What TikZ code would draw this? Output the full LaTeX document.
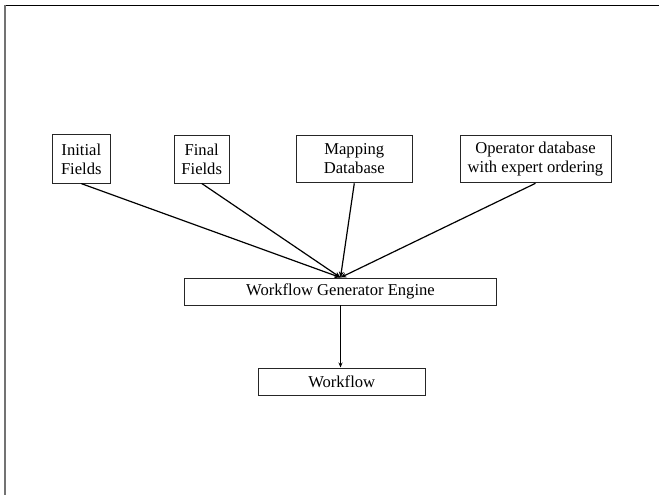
\documentclass[tikz,border=0pt]{standalone}
\usepackage{fontspec}
\setmainfont{Liberation Serif}
\usetikzlibrary{arrows.meta}
\begin{document}
\begin{tikzpicture}[x=1pt,y=-1pt,
  box/.style={draw=black!85,line width=0.9pt,inner sep=0pt,align=center,
    font=\fontsize{16.6}{19}\selectfont},
  conn/.style={line width=1.2pt,-{Stealth[length=6pt,width=5pt]}}]
\useasboundingbox (0,0) rectangle (659,495);
% page frame
\draw[line width=1.3pt,black] (4,5.5) -- (659,5.5);
\draw[line width=1.6pt,black!55] (4.8,5) -- (4.8,495);
% nodes
\node[box,minimum width=58.7pt,minimum height=48.3pt] (init) at (81.3,159) {Initial\\Fields};
\node[box,minimum width=55.3pt,minimum height=48pt] (final) at (201.7,159) {Final\\Fields};
\node[box,minimum width=116.7pt,minimum height=47.7pt] (map) at (354.3,159) {Mapping\\Database};
\node[box,minimum width=151pt,minimum height=47.7pt] (oper) at (535.5,159) {Operator database\\with expert ordering};
\node[box,minimum width=312.4pt,minimum height=27pt] (engine) at (340.5,291.5) {Workflow Generator Engine};
\node[box,minimum width=166.7pt,minimum height=27.7pt] (flow) at (341.7,381.8) {Workflow};
% connectors
\draw[conn] (init.south) -- (engine.north);
\draw[conn] (final.south) -- (engine.north);
\draw[conn] (map.south) -- (engine.north);
\draw[conn] (oper.south) -- (engine.north);
\draw[line width=1.2pt,-{Stealth[length=5pt,width=4pt]}] (engine.south) -- (engine.south |- flow.north);
\end{tikzpicture}
\end{document}
